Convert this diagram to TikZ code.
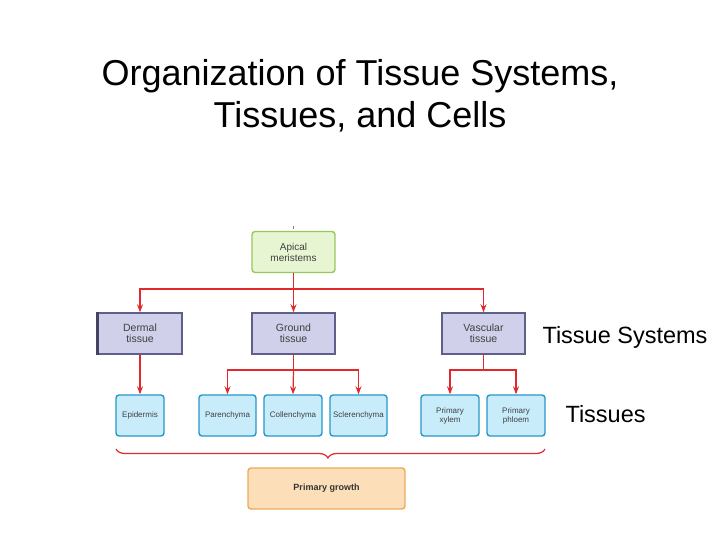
\documentclass[tikz,border=0pt]{standalone}
\usepackage{fontspec}
\setmainfont{Liberation Sans}
\usetikzlibrary{arrows.meta,decorations.pathreplacing}
\definecolor{arr}{RGB}{225,40,45}
\definecolor{sysd}{RGB}{95,95,140}
\definecolor{sysf}{RGB}{208,208,235}
\definecolor{grd}{RGB}{150,200,90}
\definecolor{grf}{RGB}{232,245,210}
\definecolor{tid}{RGB}{40,150,200}
\definecolor{tif}{RGB}{200,236,250}
\definecolor{ord}{RGB}{235,170,90}
\definecolor{orf}{RGB}{252,222,185}
\begin{document}
\begin{tikzpicture}[x=1pt,y=-1pt,
 box/.style={draw,line width=1.4pt,rounded corners=#1,minimum height=41pt,align=center,inner sep=1pt},
 grn/.style={box=3pt,draw=grd,fill=grf,font=\fontsize{10}{11}\selectfont,text=black!75},
 sys/.style={box=0pt,draw=sysd,fill=sysf,font=\fontsize{10.5}{11}\selectfont,text=black!75},
 tis/.style={box=3pt,draw=tid,fill=tif,font=\fontsize{8}{9}\selectfont,text=black!75},
 ar/.style={draw=arr,line width=1.2pt,-{Stealth[length=8pt,width=6pt]}},
 ln/.style={draw=arr,line width=1.2pt}]
\useasboundingbox (0,0) rectangle (720,540);
\node[font=\fontsize{36}{42}\selectfont,align=center] (title) at (360,96) {Organization of Tissue Systems,\\Tissues, and Cells};
\node[grn,minimum width=83pt] (ap) at (293.5,252) {Apical\\meristems};
\node[sys,minimum width=84pt] (de) at (140,333.5) {Dermal\\tissue};
\draw[sysd!70!black,line width=2.5pt] (de.north west) -- (de.south west);
\node[sys,minimum width=83pt] (gr) at (293.5,333.5) {Ground\\tissue};
\node[sys,minimum width=83pt] (va) at (483.5,333.5) {Vascular\\tissue};
\node[tis,minimum width=48pt] (ep) at (140,415.5) {Epidermis};
\node[tis,minimum width=57pt] (pa) at (227.5,415.5) {Parenchyma};
\node[tis,minimum width=58pt] (co) at (293,415.5) {Collenchyma};
\node[tis,minimum width=57pt] (sc) at (358.5,415.5) {Sclerenchyma};
\node[tis,minimum width=58pt] (xy) at (450,415.5) {Primary\\xylem};
\node[tis,minimum width=58pt] (ph) at (516,415.5) {Primary\\phloem};
\node[box=3pt,draw=ord,fill=orf,minimum width=157pt,font=\bfseries\fontsize{9}{10}\selectfont,text=black!80] (pg) at (326.5,488.5) {Primary growth};
\node[font=\fontsize{23.5}{26}\selectfont,anchor=west] (ts) at (539,337) {Tissue Systems};
\node[font=\fontsize{23.5}{26}\selectfont,anchor=west] (tt) at (562,414) {Tissues};
\coordinate (tick) at (293.5,226);
\draw[gray,line width=0.5pt] (tick) -- ++(0,3);
\coordinate (j1) at (293.5,289);
\draw[ln] (ap.south) -- (j1);
\draw[ar] (j1) -| (de.north);
\draw[ar] (j1) -| (va.north);
\draw[ar] (j1) -- (gr.north);
\draw[ar] (de.south) -- (ep.north);
\coordinate (j2) at (293.5,370);
\draw[ln] (gr.south) -- (j2);
\draw[ar] (j2) -| (pa.north);
\draw[ar] (j2) -| (sc.north);
\draw[ar] (j2) -- (co.north);
\coordinate (j3) at (483.5,370);
\draw[ln] (va.south) -- (j3);
\draw[ar] (j3) -| (xy.north);
\draw[ar] (j3) -| (ph.north);
\coordinate (b1) at (116,449);
\coordinate (b2) at (545,449);
\draw[arr,line width=1.2pt,decorate,decoration={brace,amplitude=9pt,mirror,aspect=0.494}] (b1) -- (b2);
\end{tikzpicture}
\end{document}
